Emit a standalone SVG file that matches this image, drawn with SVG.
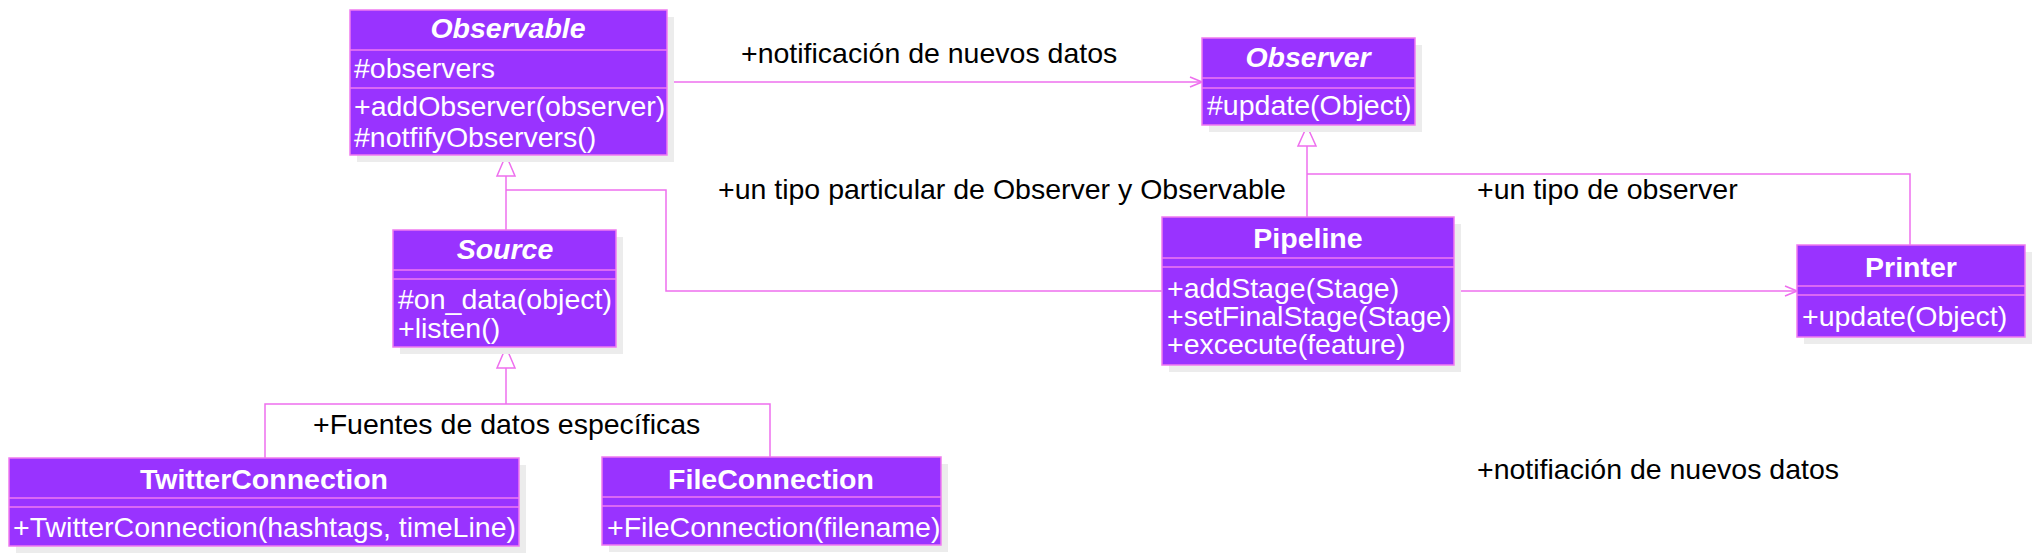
<svg xmlns="http://www.w3.org/2000/svg" width="2035" height="555" viewBox="0 0 2035 555">
<style>
text{font-family:"Liberation Sans",Arial,sans-serif;font-size:28.5px}
.shadow{fill:#ececec}
.box{fill:#9933ff;stroke:#f07bf0;stroke-width:1.5}
.div{stroke:#f07bf0;stroke-width:1.5}
.t{fill:#ffffff;font-weight:bold;text-anchor:middle}
.ti{fill:#ffffff;font-weight:bold;font-style:italic;text-anchor:middle}
.m{fill:#ffffff}
.lbl{fill:#000000}
.c{fill:none;stroke:#ee6fee;stroke-width:1.5}
.tri{fill:#ffffff;stroke:#ee6fee;stroke-width:1.5}
</style>
<defs>
<marker id="open" viewBox="0 0 14 12" refX="13" refY="6" markerWidth="14" markerHeight="12" markerUnits="userSpaceOnUse" orient="auto">
<path d="M1,1 L13,6 L1,11" fill="none" stroke="#ee6fee" stroke-width="1.5"/>
</marker>
</defs>
<rect width="2035" height="555" fill="#ffffff"/>

<g id="connectors">
<path class="c" d="M667,82 L1202,82" marker-end="url(#open)"/>
<path class="c" d="M1454,291 L1797,291" marker-end="url(#open)"/>
<path class="c" d="M506,176 L506,230"/>
<path class="c" d="M506,190 L666,190 L666,291 L1162,291"/>
<polygon class="tri" points="506,155 497,176 515,176"/>
<path class="c" d="M1307,146 L1307,217"/>
<path class="c" d="M1307,174 L1910,174 L1910,245"/>
<polygon class="tri" points="1307,126 1298,146 1316,146"/>
<path class="c" d="M506,368 L506,404"/>
<path class="c" d="M265,458 L265,404 L770,404 L770,457"/>
<polygon class="tri" points="506,347 497,368 515,368"/>
<text class="lbl" x="741" y="63">+notificación de nuevos datos</text>
<text class="lbl" x="718" y="199">+un tipo particular de Observer y Observable</text>
<text class="lbl" x="1477" y="199">+un tipo de observer</text>
<text class="lbl" x="1477" y="479">+notifiación de nuevos datos</text>
<text class="lbl" x="313" y="434">+Fuentes de datos específicas</text>
</g>

<g id="observable">
<rect class="shadow" x="357" y="17" width="317" height="145"/>
<rect class="box" x="350" y="10" width="317" height="145"/>
<line class="div" x1="350" y1="50" x2="667" y2="50"/>
<line class="div" x1="350" y1="88" x2="667" y2="88"/>
<text class="ti" x="508" y="38">Observable</text>
<text class="m" x="354" y="78">#observers</text>
<text class="m" x="354" y="116">+addObserver(observer)</text>
<text class="m" x="354" y="147">#notfifyObservers()</text>
</g>

<g id="observer">
<rect class="shadow" x="1209" y="45" width="213" height="87"/>
<rect class="box" x="1202" y="38" width="213" height="87"/>
<line class="div" x1="1202" y1="78" x2="1415" y2="78"/>
<line class="div" x1="1202" y1="88" x2="1415" y2="88"/>
<text class="ti" x="1308" y="67">Observer</text>
<text class="m" x="1207" y="115">#update(Object)</text>
</g>

<g id="source">
<rect class="shadow" x="400" y="237" width="223" height="117"/>
<rect class="box" x="393" y="230" width="223" height="117"/>
<line class="div" x1="393" y1="270" x2="616" y2="270"/>
<line class="div" x1="393" y1="279" x2="616" y2="279"/>
<text class="ti" x="505" y="259">Source</text>
<text class="m" x="398" y="309">#on_data(object)</text>
<text class="m" x="398" y="338">+listen()</text>
</g>

<g id="pipeline">
<rect class="shadow" x="1169" y="224" width="292" height="148"/>
<rect class="box" x="1162" y="217" width="292" height="148"/>
<line class="div" x1="1162" y1="258" x2="1454" y2="258"/>
<line class="div" x1="1162" y1="267" x2="1454" y2="267"/>
<text class="t" x="1308" y="248">Pipeline</text>
<text class="m" x="1167" y="298">+addStage(Stage)</text>
<text class="m" x="1167" y="326">+setFinalStage(Stage)</text>
<text class="m" x="1167" y="354">+excecute(feature)</text>
</g>

<g id="printer">
<rect class="shadow" x="1804" y="252" width="228" height="92"/>
<rect class="box" x="1797" y="245" width="228" height="92"/>
<line class="div" x1="1797" y1="286" x2="2025" y2="286"/>
<line class="div" x1="1797" y1="295" x2="2025" y2="295"/>
<text class="t" x="1911" y="277">Printer</text>
<text class="m" x="1802" y="326">+update(Object)</text>
</g>

<g id="twitterconnection">
<rect class="shadow" x="16" y="465" width="510" height="88"/>
<rect class="box" x="9" y="458" width="510" height="88"/>
<line class="div" x1="9" y1="498" x2="519" y2="498"/>
<line class="div" x1="9" y1="507" x2="519" y2="507"/>
<text class="t" x="264" y="489">TwitterConnection</text>
<text class="m" x="13" y="537">+TwitterConnection(hashtags, timeLine)</text>
</g>

<g id="fileconnection">
<rect class="shadow" x="609" y="464" width="339" height="88"/>
<rect class="box" x="602" y="457" width="339" height="88"/>
<line class="div" x1="602" y1="497" x2="941" y2="497"/>
<line class="div" x1="602" y1="506" x2="941" y2="506"/>
<text class="t" x="771" y="489">FileConnection</text>
<text class="m" x="607" y="537">+FileConnection(filename)</text>
</g>
</svg>
